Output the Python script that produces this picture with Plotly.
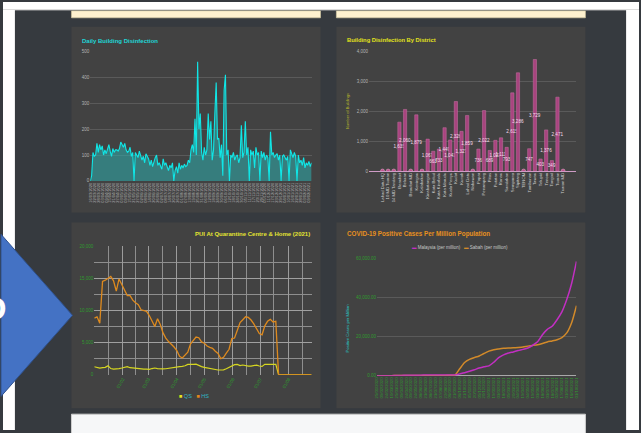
import plotly.graph_objects as go
import pandas as pd

W, H = 641, 433
def px(x): return x / W
def py(y): return 1 - y / H

FONT = "Liberation Sans, Arial, sans-serif"

# ---------------- Chart 1: Daily Building Disinfection ----------------
daily_values = [
    0, 20, 110, 95, 100, 145, 110, 140, 120, 135, 100, 120, 105, 125, 140, 115,
    95, 125, 110, 120, 120, 115, 125, 150, 140, 130, 145, 120, 110, 115, 130, 95,
    110, 0, 110, 100, 90, 115, 95, 80, 95, 70, 105, 95, 85, 60, 80, 55,
    75, 90, 100, 60, 70, 55, 45, 85, 60, 70, 50, 40, 60, 50, 70, 0,
    40, 55, 30, 70, 45, 60, 50, 65, 55, 60, 80, 70, 120, 140, 110, 240,
    100, 460, 200, 260, 110, 80, 130, 100, 120, 260, 160, 230, 80, 120, 260, 380,
    160, 165, 90, 140, 20, 350, 410, 100, 120, 0, 100, 90, 110, 80, 95, 100,
    70, 90, 215, 90, 110, 230, 100, 130, 0, 120, 100, 115, 50, 130, 100, 110,
    0, 115, 90, 110, 80, 100, 90, 0, 190, 100, 110, 90, 100, 105, 80, 100,
    0, 95, 100, 90, 80, 95, 0, 120, 100, 90, 110, 95, 0, 100, 70, 80,
    60, 90, 50, 70, 60, 75, 55, 70,
]
daily_dates = pd.date_range("2020-03-16", periods=len(daily_values), freq="2D").strftime("%d/%m/%Y").tolist()

# ---------------- Chart 2: Building Disinfection By District ----------------
districts = [
    "Lahad Datu HQ", "10 MD Tuaran", "14 MD Tandang", "Beaufort", "Beluran", "Beaufort MD",
    "Keningau", "Kalabakan", "Kinabatangan", "Kota Belud", "Kota Kinabalu", "Kota Marudu",
    "Kuala Penyu", "Kudat", "Kunak", "Lahad Datu", "Nabawan", "Papar", "Penampang", "Pitas",
    "Putatan", "Ranau", "Sandakan", "Semporna", "Sipitang", "TENOM", "Tambunan", "Tawau",
    "Telupid", "Tenom", "Tongod", "Tuaran", "Tuaran MD",
]
district_values = [
    0, 0, 0, 1635, 2060, 0, 1879, 0, 1067, 663, 733, 1449, 1041, 2326, 1327, 1859, 0,
    736, 2022, 689, 1027, 1111, 793, 2615, 3286, 0, 747, 3729, 403, 1376, 349, 2471, 0,
]

# ---------------- Chart 3: PUI At Quarantine Centre & Home (2021) ----------------
hs_values = [
    8800, 9000, 8000, 14500, 14700, 15000, 15300, 14600, 13000, 14900, 14000, 13100,
    12300, 12300, 11600, 11200, 10900, 10100, 9950, 9850, 9200, 8400, 7500, 8700,
    7800, 6500, 5700, 5150, 4750, 4300, 3750, 2850, 2600, 3100, 3500, 4800,
    5300, 5850, 5750, 5100, 4900, 4450, 4250, 4100, 3650, 3300, 2500, 2700,
    3350, 3950, 5600, 5700, 6900, 8100, 8550, 9000, 8900, 8500, 7900, 7200,
    6400, 6200, 7600, 8300, 8600, 8200, 8300,
    0, 0, 0, 0, 0, 0, 0, 0, 0, 0, 0, 0, 0,
]
qs_values = [
    1230, 1150, 1030, 1080, 1130, 1380, 950, 870, 870, 950, 1030, 1180,
    1230, 1080, 1030, 930, 870, 870, 870, 850, 820, 950, 1030, 950,
    870, 900, 920, 1000, 1100, 1150, 1230, 1250, 1300, 1380, 1600, 1550,
    1600, 1640, 1400, 1250, 1130, 1030, 950, 850, 780, 720, 720, 750,
    920, 1150, 1380, 1550, 1600, 1400, 1500, 1400, 1330, 1330, 1400, 1490,
    1350, 1280, 1600, 1640, 1640, 1620, 1590,
    0, 0, 0, 0, 0, 0, 0, 0, 0, 0, 0, 0, 0,
]
pui_dates = pd.date_range("2021-01-01", periods=len(hs_values), freq="3D")
pui_month_ticks = ["2021-02-01", "2021-03-01", "2021-04-01", "2021-05-01",
                   "2021-06-01", "2021-07-01", "2021-08-01"]
pui_mid_ticks = ["2021-01-16", "2021-02-15", "2021-03-16", "2021-04-16",
                 "2021-05-16", "2021-06-16", "2021-07-16", "2021-08-16"]

# ---------------- Chart 4: COVID-19 Positive Cases Per Million ----------------
malaysia_pm = [
    0, 1, 1, 4, 53, 130, 175, 200, 225, 258, 264, 268, 273, 280, 288, 294,
    320, 900, 1500, 2200, 3000, 3850, 4500, 5000, 6800, 9200, 10600, 11500, 12100,
    12800, 13400, 14100, 15500, 17300, 20900, 23600, 25200, 28500, 32500, 38800, 47000, 58300,
]
sabah_pm = [
    0, 0, 0, 2, 20, 60, 75, 80, 82, 84, 85, 86, 88, 92, 120, 180,
    300, 3500, 6700, 8300, 9200, 10000, 11300, 12500, 13200, 13600, 13950, 14100, 14200,
    14400, 14650, 15050, 15400, 15800, 16400, 17200, 17700, 18300, 19400, 21800, 27000, 35700,
]
case_dates = pd.date_range("2020-01-25", periods=len(malaysia_pm), freq="15D").strftime("%d/%m/%Y").tolist()

# ---------------- Figure ----------------
fig = go.Figure()

fig.add_trace(go.Scatter(
    x=daily_dates, y=daily_values, mode="lines", fill="tozeroy",
    line=dict(color="#10e6e6", width=1.1), fillcolor="rgba(45,175,175,0.55)",
    xaxis="x", yaxis="y", showlegend=False))

fig.add_trace(go.Bar(
    x=districts, y=district_values, marker=dict(color="#a8447f", line=dict(color="#c872a4", width=0.5)),
    text=[f"{v:,}" if v else "" for v in district_values], textposition="inside",
    insidetextanchor="middle", constraintext="none", textangle=0,
    textfont=dict(color="#f6dcec", size=4.6, family=FONT),
    xaxis="x2", yaxis="y2", showlegend=False))
zero_d = [d for d, v in zip(districts, district_values) if v == 0]
fig.add_trace(go.Scatter(
    x=zero_d, y=[v for v in district_values if v == 0], mode="markers",
    marker=dict(color="#c2508f", size=4, line=dict(color="#e8b0d0", width=0.5)),
    xaxis="x2", yaxis="y2", showlegend=False))

fig.add_trace(go.Scatter(
    x=pui_dates, y=qs_values, mode="lines", line=dict(color="#d6d620", width=1.2),
    xaxis="x3", yaxis="y3", showlegend=False, name="QS"))
fig.add_trace(go.Scatter(
    x=pui_dates, y=hs_values, mode="lines", line=dict(color="#de8a1e", width=1.3),
    xaxis="x3", yaxis="y3", showlegend=False, name="HS"))

fig.add_trace(go.Scatter(
    x=case_dates, y=sabah_pm, mode="lines", line=dict(color="#d28a2a", width=1.5, shape="spline", smoothing=0.6),
    xaxis="x4", yaxis="y4", showlegend=False, name="Sabah (per million)"))
fig.add_trace(go.Scatter(
    x=case_dates, y=malaysia_pm, mode="lines", line=dict(color="#c22fc2", width=1.5, shape="spline", smoothing=0.6),
    xaxis="x4", yaxis="y4", showlegend=False, name="Malaysia (per million)"))

GRID = "#5a5a5a"
GRAY_T = "#b4b4b4"
GREEN_T = "#2f9a2f"

layout = dict(
    width=W, height=H, autosize=False,
    margin=dict(l=0, r=0, t=0, b=0),
    paper_bgcolor="#363a3f", plot_bgcolor="#424242",
    font=dict(family=FONT),
    bargap=0.42,
    xaxis=dict(domain=[px(88), px(311)], anchor="y", type="category",
               range=[0, len(daily_values) - 1], tickvals=daily_dates[::3],
               tickangle=-90, tickfont=dict(size=4, color=GRAY_T), showgrid=False,
               showline=False, ticks="", zeroline=False),
    yaxis=dict(domain=[py(181), py(50)], anchor="x", range=[0, 500], dtick=100,
               gridcolor=GRID, gridwidth=1, tickfont=dict(size=4.5, color=GRAY_T),
               zeroline=False, showline=False, ticks=""),
    xaxis2=dict(domain=[px(369), px(578)], anchor="y2", type="category",
                tickangle=-90, dtick=1, tickfont=dict(size=4.2, color="#cfcfcf"),
                showgrid=False, ticks="", zeroline=False),
    yaxis2=dict(domain=[py(171), py(50)], anchor="x2", range=[0, 4000], dtick=1000,
                tickformat=",", gridcolor=GRID, tickfont=dict(size=4.5, color=GRAY_T),
                zeroline=True, zerolinecolor="#cf9cc6", zerolinewidth=1, ticks=""),
    xaxis3=dict(domain=[px(92), px(311)], anchor="y3", type="date",
                range=["2021-01-01", "2021-08-26"], tickvals=pui_month_ticks,
                tickformat="%d/%m", tickangle=-60, tickfont=dict(size=4.5, color=GREEN_T),
                showgrid=True, gridcolor="#9c9c9c", gridwidth=1, ticks="",
                minor=dict(tickvals=pui_mid_ticks, showgrid=True, gridcolor="#8e8e8e", gridwidth=1),
                zeroline=False),
    yaxis3=dict(domain=[py(377), py(247)], anchor="x3", range=[0, 20000], dtick=5000,
                tickformat=",", tickfont=dict(size=4.5, color=GREEN_T),
                gridcolor="#a0a0a0", gridwidth=1,
                minor=dict(dtick=2500, showgrid=True, gridcolor="#8e8e8e", gridwidth=1),
                zeroline=False, ticks=""),
    xaxis4=dict(domain=[px(377), px(578)], anchor="y4", type="category",
                range=[0, len(case_dates) - 1], dtick=1, tickangle=-90,
                tickfont=dict(size=4.2, color=GREEN_T), showgrid=False, ticks="", zeroline=False),
    yaxis4=dict(domain=[py(378), py(259)], anchor="x4", range=[0, 60000], dtick=20000,
                tickformat=",.2f", tickfont=dict(size=4.5, color=GREEN_T),
                gridcolor=GRID, zeroline=True, zerolinecolor="#a8a8a8", zerolinewidth=1, ticks=""),
)

def rect(x0, y0, x1, y1, fill, line=None, lw=0, layer="below"):
    return dict(type="rect", xref="paper", yref="paper", x0=px(x0), x1=px(x1),
                y0=py(y1), y1=py(y0), fillcolor=fill,
                line=dict(color=line or fill, width=lw), layer=layer)

shapes = [
    rect(0, 0, 641, 8, "#ffffff"),
    dict(type="line", xref="paper", yref="paper", x0=0, x1=1, y0=py(8), y1=py(8),
         line=dict(color="#c4c4c4", width=1), layer="below"),
    rect(0, 8, 12, 433, "#ffffff"),
    rect(628, 8, 641, 433, "#ffffff"),
    rect(69, 9, 320, 16, "#fef1cf", "#d9cca4", 0.6),
    rect(336, 9, 587, 16, "#fef1cf", "#d9cca4", 0.6),
    rect(69, 25, 320, 213, "#424242"),
    rect(336, 25, 587, 213, "#424242"),
    rect(69, 223, 320, 411, "#424242"),
    rect(336, 223, 587, 411, "#424242"),
    rect(69, 417, 587, 440, "#f6f7f8", "#cfcfcf", 1),
    dict(type="path", xref="paper", yref="paper",
         path=f"M {px(-2)},{py(235)} L {px(70)},{py(317)} L {px(-2)},{py(399)} Z",
         fillcolor="#4472c4", line=dict(color="#2f528f", width=1), layer="above"),
]
layout["shapes"] = shapes

def ann(text, x, y, size, color, xanchor="left", angle=0, yanchor="middle"):
    return dict(text=text, x=px(x), y=py(y), xref="paper", yref="paper",
                xanchor=xanchor, yanchor=yanchor, showarrow=False, textangle=angle,
                font=dict(size=size, color=color, family=FONT))

layout["annotations"] = [
    ann("<b>Daily Building Disinfection</b>", 78, 39, 6, "#1fd6d6"),
    ann("<b>Building Disinfection By District</b>", 345, 38, 5.8, "#e3e31c"),
    ann("<b>PUI At Quarantine Centre &amp; Home (2021)</b>", 311, 235, 6, "#e2e232", xanchor="right"),
    ann("<b>COVID-19 Positive Cases Per Million Population</b>", 345, 235, 6.3, "#e8901f"),
    ann("Number of Buildings", 347, 110, 4, "#b8b82a", xanchor="center", angle=-90),
    ann("Positive Cases per Million", 347, 330, 4.2, "#26c6c6", xanchor="center", angle=-90),
    ann('<span style="color:#e6e61a">■</span> <span style="color:#2fb5c5">QS</span>'
        '   <span style="color:#e3881a">■</span> <span style="color:#2fb5c5">HS</span>',
        193, 399, 5.5, "#2fb5c5", xanchor="center"),
    ann('<span style="color:#c22fc2">▬</span> Malaysia (per million)   '
        '<span style="color:#d28a2a">▬</span> Sabah (per million)',
        461, 248, 4.5, "#c8c8c8", xanchor="center"),
    ann("<b>D</b>", 6, 310, 34, "#ffffff", xanchor="right"),
]

fig.update_layout(**layout)
fig.write_html(
    "out.html",
    config={"displayModeBar": False},
    post_script="document.body.style.margin='0';document.body.style.padding='0';"
                "document.body.style.overflow='hidden';"
                "document.documentElement.style.overflow='hidden';",
)
